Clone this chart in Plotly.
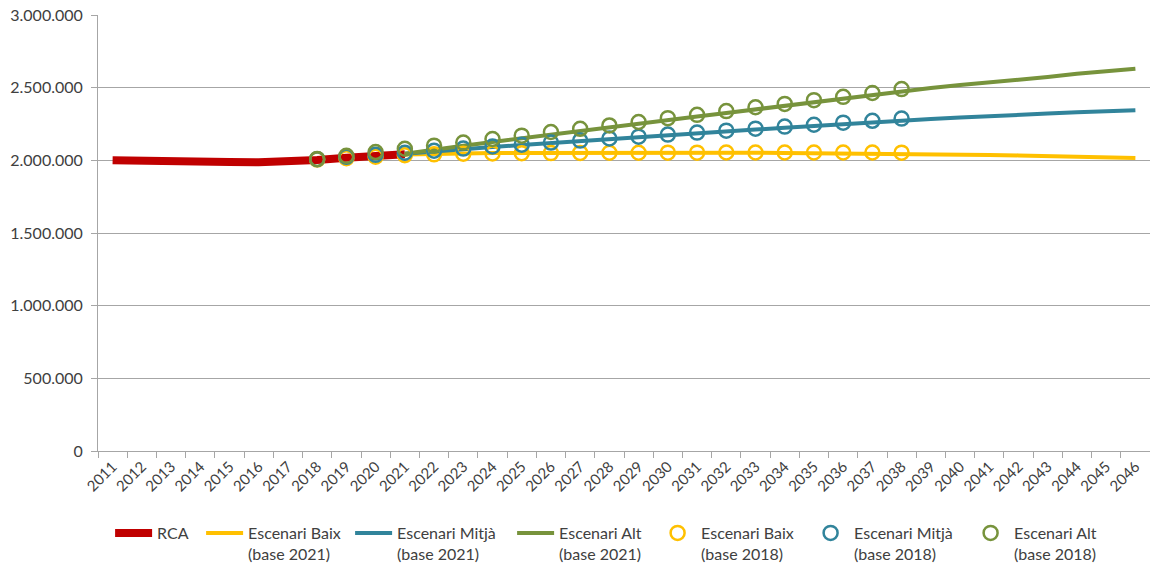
import plotly.graph_objects as go

years = [str(y) for y in range(2011, 2047)]

rca_years = [str(y) for y in range(2011, 2022)]
rca = [2000000, 2000000, 2000000, 1999000, 1988000, 1986000, 1992000, 2003000, 2018000, 2031000, 2042000]

b21_years = [str(y) for y in range(2021, 2047)]
baix_2021 = [2040000, 2045000, 2048000, 2050000, 2051000, 2052000, 2053000, 2053000, 2053000, 2053000, 2053000, 2052000, 2052000,
             2051000, 2050000, 2049000, 2048000, 2046000, 2044000, 2041000, 2037000, 2034000, 2031000, 2026000, 2021000, 2016000]
mitja_2021 = [2045000, 2063000, 2078000, 2092000, 2106000, 2120000, 2134000, 2148000, 2161000, 2174000, 2187000, 2199000, 2212000,
              2224000, 2237000, 2249000, 2262000, 2275000, 2285000, 2294000, 2305000, 2313000, 2322000, 2330000, 2338000, 2345000]
alt_2021 = [2045000, 2075000, 2100000, 2126000, 2152000, 2177000, 2200000, 2226000, 2252000, 2278000, 2302000, 2326000, 2351000,
            2374000, 2398000, 2421000, 2446000, 2476000, 2497000, 2518000, 2535000, 2555000, 2573000, 2595000, 2612000, 2630000]

b18_years = [str(y) for y in range(2018, 2039)]
baix_2018 = [2005000, 2015000, 2025000, 2035000, 2041000, 2045000, 2047000, 2049000, 2050000, 2051000, 2052000,
             2052000, 2053000, 2053000, 2054000, 2054000, 2054000, 2054000, 2054000, 2054000, 2053000]
mitja_2018 = [2008000, 2024000, 2038000, 2052000, 2066000, 2081000, 2095000, 2108000, 2122000, 2136000, 2150000,
              2163000, 2177000, 2191000, 2204000, 2218000, 2232000, 2245000, 2259000, 2272000, 2287000]
alt_2018 = [2010000, 2031000, 2057000, 2080000, 2101000, 2122000, 2147000, 2170000, 2195000, 2217000, 2240000,
            2264000, 2290000, 2313000, 2339000, 2365000, 2388000, 2414000, 2437000, 2463000, 2490000]

y_ticks = [0, 500000, 1000000, 1500000, 2000000, 2500000, 3000000]

RED = "#C00000"
YEL = "#FFC000"
BLU = "#31849B"
GRN = "#77933C"
TXT = "#404040"

fig = go.Figure()

fig.add_trace(go.Scatter(x=rca_years, y=rca, mode="lines", name="RCA",
                         line=dict(color=RED, width=8), legendrank=1, legendwidth=39))
fig.add_trace(go.Scatter(x=b21_years, y=baix_2021, mode="lines", name="Escenari Baix<br>(base 2021)",
                         line=dict(color=YEL, width=4), legendrank=2, legendwidth=97))
fig.add_trace(go.Scatter(x=b21_years, y=mitja_2021, mode="lines", name="Escenari Mitjà<br>(base 2021)",
                         line=dict(color=BLU, width=4), legendrank=3, legendwidth=110))
fig.add_trace(go.Scatter(x=b21_years, y=alt_2021, mode="lines", name="Escenari Alt<br>(base 2021)",
                         line=dict(color=GRN, width=4), legendrank=4, legendwidth=90))
for name, vals, col, rk, lw in [("Escenari Baix<br>(base 2018)", baix_2018, YEL, 5, 101),
                                ("Escenari Mitjà<br>(base 2018)", mitja_2018, BLU, 6, 108),
                                ("Escenari Alt<br>(base 2018)", alt_2018, GRN, 7, 100)]:
    fig.add_trace(go.Scatter(x=b18_years, y=vals, mode="markers", name=name,
                             marker=dict(symbol="circle-open", size=14, color=col, line=dict(width=2.5, color=col)),
                             legendrank=rk, legendwidth=lw))

fig.update_layout(
    width=1150, height=571,
    margin=dict(l=98, r=0, t=15, b=118),
    paper_bgcolor="white", plot_bgcolor="white",
    separators=",.",
    font=dict(family="Lato", size=16, color=TXT),
    showlegend=True,
    legend=dict(orientation="h", x=0.0115, xanchor="left", y=-0.15, yanchor="top",
                font=dict(size=16, color=TXT), valign="top", itemwidth=37,
                traceorder="normal"),
)
fig.update_xaxes(type="category", categoryorder="array", categoryarray=years,
                 range=[-0.5, len(years) - 0.5], tickangle=-45, tickson="boundaries",
                 ticks="outside", ticklen=6, tickcolor="#A6A6A6", automargin=False,
                 showline=True, linecolor="#A6A6A6", linewidth=1, showgrid=False,
                 tickfont=dict(size=15, color=TXT))
fig.update_yaxes(range=[0, 3000000], tickvals=y_ticks, tickformat=",d", automargin=False,
                 ticks="outside", ticklen=6, tickcolor="#A6A6A6", ticklabelstandoff=5,
                 showline=True, linecolor="#A6A6A6", linewidth=1,
                 showgrid=True, gridcolor="#A6A6A6", gridwidth=1, zeroline=False,
                 tickfont=dict(size=16, color=TXT))

fig.write_html("out.html", config={"displayModeBar": False},
               post_script="document.body.style.margin='0';document.body.style.overflow='hidden';")
